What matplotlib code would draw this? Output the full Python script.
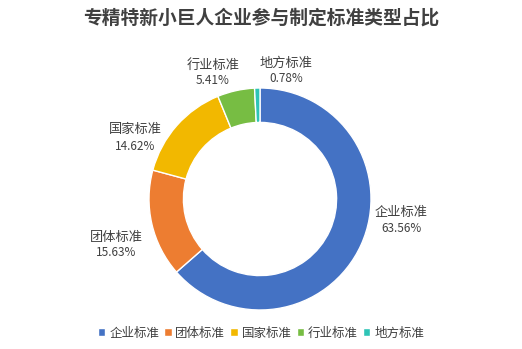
import matplotlib.pyplot as plt

plt.rcParams['font.family'] = ['Noto Sans CJK SC', 'DejaVu Sans']

categories = ['企业标准', '团体标准', '国家标准', '行业标准', '地方标准']
shares = [63.56, 15.63, 14.62, 5.41, 0.78]
colors = ['#4472C4', '#ED7D31', '#F2B800', '#77BD43', '#2EC4B6']

fig = plt.figure(figsize=(5.22, 3.49), dpi=100)
cx, cy, R = 260, 199, 111
W, H = 522, 349
ax = fig.add_axes([(cx - R) / W, (H - cy - R) / H, 2 * R / W, 2 * R / H])

wedges, _ = ax.pie(shares, colors=colors, startangle=90, counterclock=False,
                   radius=1.0, wedgeprops=dict(width=0.31, edgecolor='white', linewidth=1))
ax.set_xlim(-1, 1)
ax.set_ylim(-1, 1)
ax.set_aspect('auto')
ax.axis('off')

# label centres in pixels (name line, value line)
label_px = [(401, 212, 228), (116, 237, 253), (135, 129, 147), (213, 65, 81), (286, 63, 78)]
for name, val, (px, py1, py2) in zip(categories, shares, label_px):
    x = (px - cx) / R
    ax.text(x, (cy - py1) / R, name, ha='center', va='center', fontsize=9.5,
            color='#404040', clip_on=False)
    ax.text(x, (cy - py2) / R, f'{val:.2f}%', ha='center', va='center', fontsize=8.5,
            color='#404040', clip_on=False)

fig.text(0.5, (H - 18) / H, '专精特新小巨人企业参与制定标准类型占比', ha='center', va='center',
         fontsize=13.5, fontweight='bold', color='#404040')

leg = fig.legend(wedges, categories, loc='center', bbox_to_anchor=(0.5, (H - 333) / H),
                 ncol=5, frameon=False, fontsize=9, handlelength=0.6, handleheight=0.6,
                 handletextpad=0.3, columnspacing=0.4)
for t in leg.get_texts():
    t.set_color('#404040')

fig.savefig('out.png', dpi=100)
